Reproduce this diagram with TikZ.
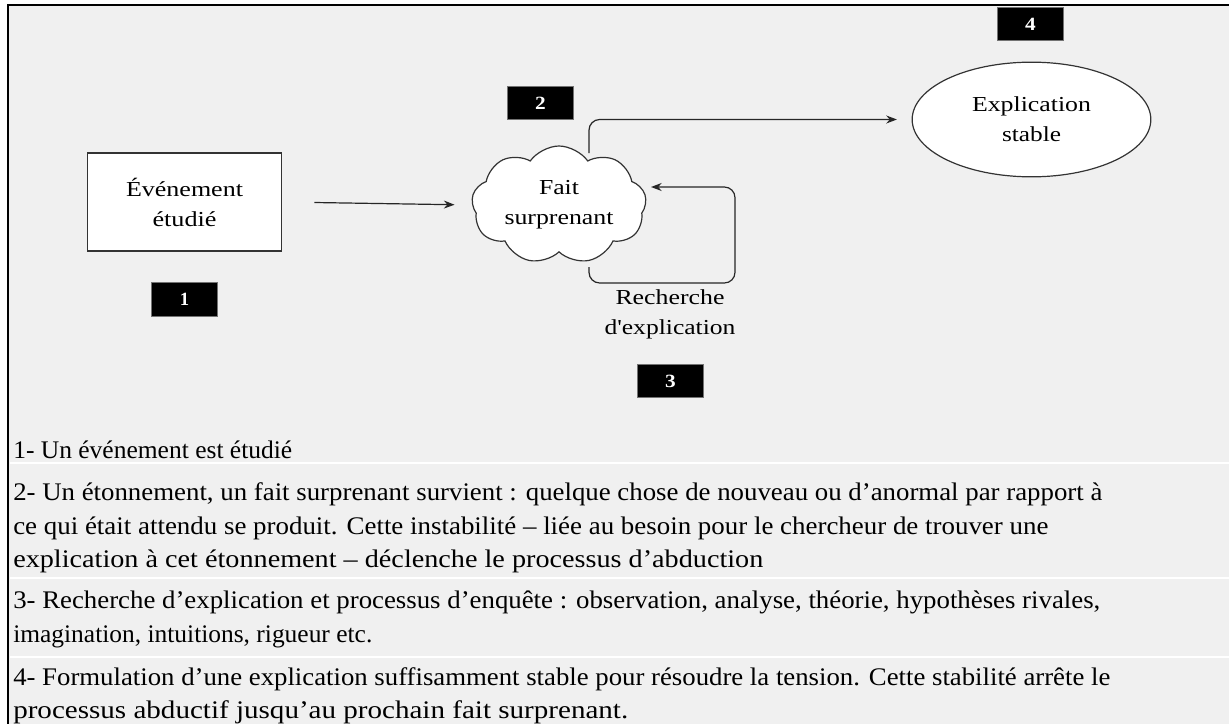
\documentclass[tikz,border=0pt]{standalone}
\usepackage{fontspec}
\usepackage{graphicx}
\newfontfamily\tnr{Liberation Serif}
% stretch a line horizontally to a given width (in pt)
\newcommand\fitw[2]{\resizebox{#1pt}{\height}{#2}}
\usetikzlibrary{shapes.symbols,shapes.geometric,arrows.meta}
\definecolor{bg}{HTML}{F0F0F0}
\begin{document}
\begin{tikzpicture}[x=0.75pt,y=-0.75pt,
  lbl/.style={font=\tnr\fontsize{16}{22.5}\selectfont, align=center, text=black},
  badge/.style={fill=black, draw=black!55, line width=0.6pt, minimum width=49pt, minimum height=25pt, inner sep=0pt, text=white, font=\tnr\bfseries\fontsize{14}{14}\selectfont},
  shp/.style={draw=black!80, fill=white, line width=0.9pt},
  conn/.style={draw=black!85, line width=0.9pt, -{Stealth[length=8pt,width=6pt]}},
  para/.style={anchor=base west, inner sep=0pt, font=\tnr\fontsize{19}{25}\selectfont, text=black},
  sep/.style={draw=white, line width=1.2pt}
]
\useasboundingbox (0,0) rectangle (1229,724);
\fill[white] (0,0) rectangle (1229,724);
\fill[bg] (8,5) rectangle (1229,724);
\draw[line width=2.2pt] (8,724) -- (8,5) -- (1229,5);

% separators
\draw[sep] (10,463) -- (1229,463);
\draw[sep] (10,578) -- (1229,578);
\draw[sep] (10,657) -- (1229,657);

% shapes
\node[shp, rectangle, minimum width=146pt, minimum height=73.5pt, lbl] (evt) at (184.5,202) {\fitw{87.75}{Événement}\\\fitw{48}{étudié}};
\node[shp, cloud, cloud puffs=9, cloud puff arc=110, aspect=1.6, minimum width=131pt, minimum height=85pt, inner sep=0pt, lbl] (fait) at (559,205) {\fitw{30}{Fait}\\\fitw{81.75}{surprenant}};
\node[shp, ellipse, minimum width=179pt, minimum height=86pt, inner sep=0pt, lbl] (expl) at (1031.5,119.5) {\fitw{89.25}{Explication}\\\fitw{44.25}{stable}};
\node[lbl] (rech) at (670,314) {\fitw{81.75}{Recherche}\\\fitw{98.25}{d'explication}};

% badges
\node[badge] (b1) at (184.5,299.5) {\fitw{7}{1}};
\node[badge] (b2) at (540.5,103) {\fitw{8}{2}};
\node[badge] (b3) at (670.5,381) {\fitw{8}{3}};
\node[badge] (b4) at (1030.5,24) {\fitw{8}{4}};

% connectors
\draw[conn, shorten <=24pt, shorten >=13pt] (evt.east) -- (fait.west);
\coordinate (topstart) at (589,153);
\draw[conn, rounded corners=8pt, shorten >=11pt] (topstart) |- (expl.west);
\coordinate (loopstart) at (589,267);
\coordinate (loopcorner) at (735,283);
\coordinate (loopend) at (651,187);
\draw[conn, rounded corners=8pt] (loopstart) |- (loopcorner) |- (loopend);

% text
\node[para] (t1) at (13,458) {\fitw{209.25}{1- Un événement est étudié}};
\node[para] (t2a) at (13,500) {\fitw{816.75}{2- Un étonnement, un fait surprenant survient : quelque chose de nouveau ou d’anormal par rapport à}};
\node[para] (t2b) at (13,534) {\fitw{776.25}{ce qui était attendu se produit. Cette instabilité – liée au besoin pour le chercheur de trouver une}};
\node[para] (t2c) at (13,567) {\fitw{562.5}{explication à cet étonnement – déclenche le processus d’abduction}};
\node[para] (t3a) at (13,608) {\fitw{815.25}{3- Recherche d’explication et processus d’enquête : observation, analyse, théorie, hypothèses rivales,}};
\node[para] (t3b) at (13,642) {\fitw{269.25}{imagination, intuitions, rigueur etc.}};
\node[para] (t4a) at (13,685) {\fitw{822.75}{4- Formulation d’une explication suffisamment stable pour résoudre la tension. Cette stabilité arrête le}};
\node[para] (t4b) at (13,718) {\fitw{461.25}{processus abductif jusqu’au prochain fait surprenant.}};
\end{tikzpicture}
\end{document}
